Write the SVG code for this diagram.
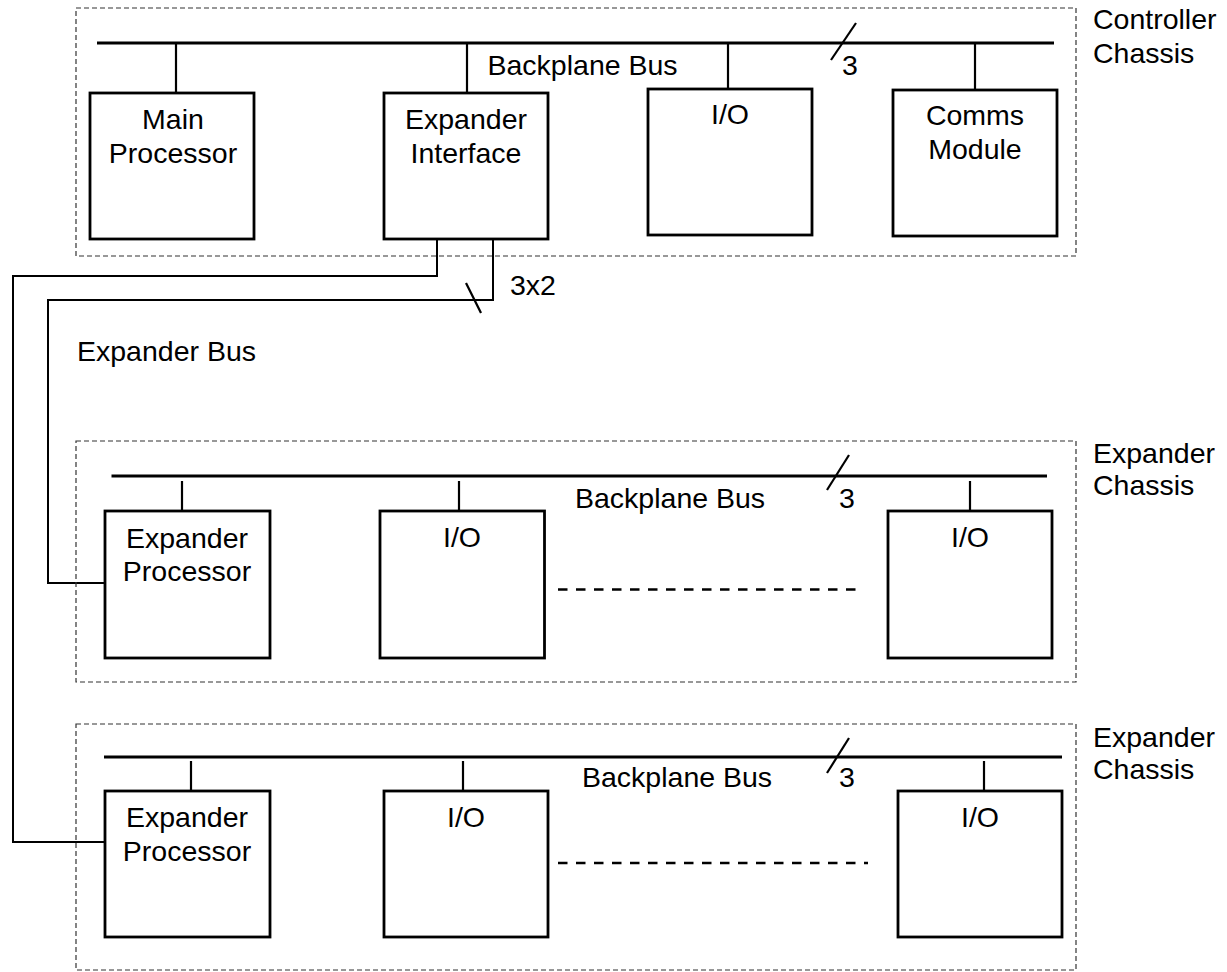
<svg xmlns="http://www.w3.org/2000/svg" width="1227" height="972" viewBox="0 0 1227 972">
<style>
text{font-family:"Liberation Sans",Arial,sans-serif;font-size:28.5px;fill:#000}
.c{text-anchor:middle}
.chassis{fill:none;stroke:#333;stroke-width:1.2;stroke-dasharray:5 3}
.bus{stroke:#000;stroke-width:3;fill:none}
.drop{stroke:#000;stroke-width:2.2;fill:none}
.box{fill:#fff;stroke:#000;stroke-width:2.8}
.wire{stroke:#000;stroke-width:2;fill:none}
.dots{stroke:#000;stroke-width:2.6;stroke-dasharray:9.5 8.5;fill:none}
</style>
<rect width="1227" height="972" fill="#fff"/>

<g id="controller-chassis">
<rect class="chassis" x="76" y="8" width="1000" height="248"/>
<line class="bus" x1="97" y1="43" x2="1054" y2="43"/>
<line class="drop" x1="831" y1="60" x2="856" y2="23"/>
<text x="487.5" y="75">Backplane Bus</text>
<text x="842" y="75">3</text>
<text x="1093" y="29">Controller</text>
<text x="1093" y="63">Chassis</text>
</g>

<g id="main-processor">
<line class="drop" x1="176" y1="43" x2="176" y2="93"/>
<rect class="box" x="90" y="93" width="164" height="146"/>
<text class="c" x="173" y="129">Main</text>
<text class="c" x="173" y="163">Processor</text>
</g>

<g id="expander-interface">
<line class="drop" x1="467" y1="43" x2="467" y2="93"/>
<rect class="box" x="384" y="93" width="164" height="146"/>
<text class="c" x="466" y="129">Expander</text>
<text class="c" x="466" y="163">Interface</text>
</g>

<g id="io-1">
<line class="drop" x1="728" y1="43" x2="728" y2="89"/>
<rect class="box" x="648" y="89" width="164" height="146"/>
<text class="c" x="730" y="124">I/O</text>
</g>

<g id="comms-module">
<line class="drop" x1="975" y1="43" x2="975" y2="90"/>
<rect class="box" x="893" y="90" width="164" height="146"/>
<text class="c" x="975" y="125">Comms</text>
<text class="c" x="975" y="159">Module</text>
</g>

<g id="connectors">
<path class="wire" d="M437,239 V276 H13 V842 H105"/>
<path class="wire" d="M493,239 V300 H48 V583 H105"/>
<line class="drop" x1="466" y1="283" x2="481" y2="313"/>
<text x="510" y="295">3x2</text>
<text x="77" y="361">Expander Bus</text>
</g>

<g id="expander-chassis-1">
<rect class="chassis" x="76" y="441" width="1000" height="241"/>
<line class="bus" x1="111.5" y1="476" x2="1047" y2="476"/>
<line class="drop" x1="827" y1="490" x2="849" y2="455"/>
<text x="575" y="508">Backplane Bus</text>
<text x="839" y="508">3</text>
<text x="1093" y="463">Expander</text>
<text x="1093" y="495">Chassis</text>
<line class="dots" x1="558" y1="589.5" x2="864" y2="589.5"/>
</g>

<g id="expander-processor-1">
<line class="drop" x1="182" y1="481" x2="182" y2="511"/>
<rect class="box" x="105" y="511" width="165" height="147"/>
<text class="c" x="187" y="548">Expander</text>
<text class="c" x="187" y="581">Processor</text>
</g>

<g id="io-2">
<line class="drop" x1="459" y1="481" x2="459" y2="511"/>
<rect class="box" x="380" y="511" width="164.5" height="147"/>
<text class="c" x="462" y="547">I/O</text>
</g>

<g id="io-3">
<line class="drop" x1="970" y1="481" x2="970" y2="511"/>
<rect class="box" x="888" y="511" width="164" height="147"/>
<text class="c" x="970" y="547">I/O</text>
</g>

<g id="expander-chassis-2">
<rect class="chassis" x="76" y="724" width="1000" height="246"/>
<line class="bus" x1="104" y1="757" x2="1062" y2="757"/>
<line class="drop" x1="827" y1="773" x2="849" y2="738"/>
<text x="582" y="787">Backplane Bus</text>
<text x="839" y="787">3</text>
<text x="1093" y="747">Expander</text>
<text x="1093" y="779">Chassis</text>
<line class="dots" x1="558" y1="863" x2="868" y2="863"/>
</g>

<g id="expander-processor-2">
<line class="drop" x1="191" y1="761" x2="191" y2="791"/>
<rect class="box" x="105" y="791" width="165" height="146"/>
<text class="c" x="187" y="827">Expander</text>
<text class="c" x="187" y="861">Processor</text>
</g>

<g id="io-4">
<line class="drop" x1="463" y1="761" x2="463" y2="791"/>
<rect class="box" x="384" y="791" width="164" height="146"/>
<text class="c" x="466" y="827">I/O</text>
</g>

<g id="io-5">
<line class="drop" x1="984" y1="761" x2="984" y2="791"/>
<rect class="box" x="898" y="791" width="164" height="146"/>
<text class="c" x="980" y="827">I/O</text>
</g>
</svg>
